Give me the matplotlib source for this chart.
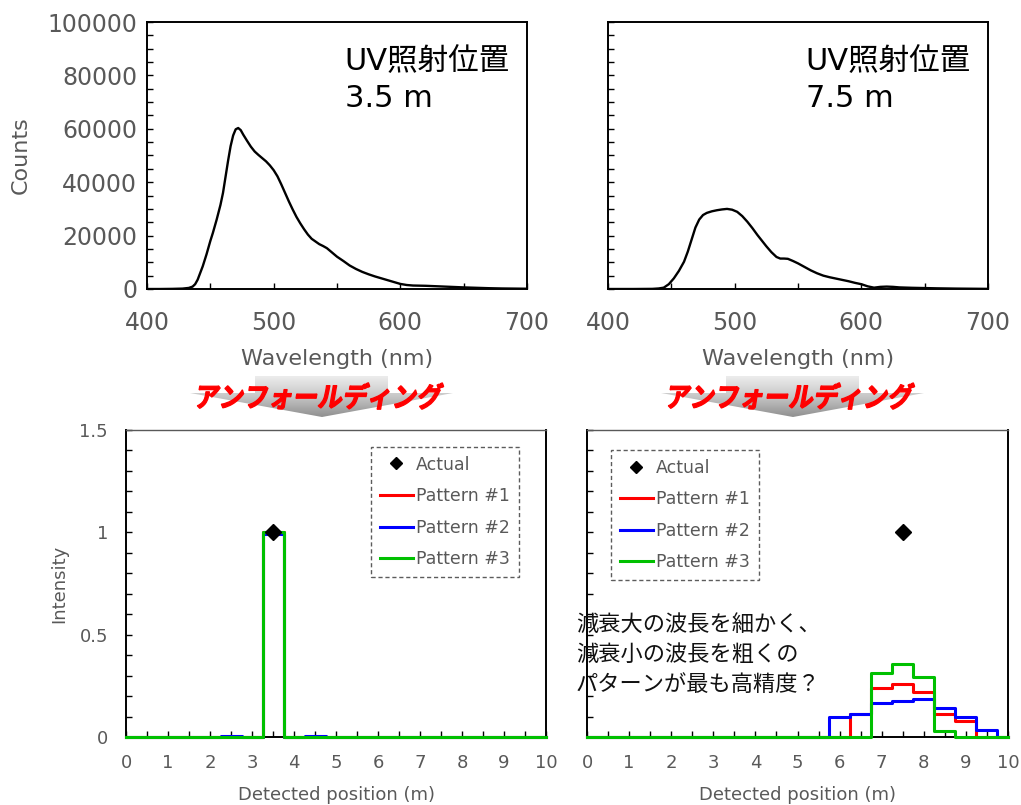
#!/usr/bin/env python3
# Spectra at two UV positions (top) and their unfolded position profiles (bottom).

import matplotlib
matplotlib.use("Agg")
import matplotlib.pyplot as plt
import numpy as np
from matplotlib.colors import LinearSegmentedColormap
from matplotlib.font_manager import FontProperties
from matplotlib.patches import PathPatch, Polygon
from matplotlib.textpath import TextPath
from matplotlib.transforms import Affine2D
from matplotlib.ticker import MultipleLocator

# --- spectra ---
WL_35 = [400, 410, 420, 428, 433, 436, 438, 440, 442, 444, 447, 450, 452, 455, 458,
         460, 462, 464, 466, 468, 470, 472, 474, 476, 479, 482, 485, 488, 491, 494,
         497, 500, 503, 506, 509, 512, 515, 518, 521, 524, 527, 530, 533, 536, 539,
         542, 546, 550, 555, 560, 565, 570, 575, 580, 585, 590, 595, 600, 605, 610,
         615, 620, 630, 640, 650, 660, 670, 680, 690, 700]
CNT_35 = [0, 0, 50, 150, 400, 900, 1800, 3500, 6000, 8500, 13000, 18000, 21000,
          26000, 31500, 36000, 42000, 48000, 53500, 57500, 59800, 60300, 59500,
          57800, 55500, 53300, 51500, 50200, 49000, 47800, 46300, 44500, 42200,
          39200, 36000, 32800, 29800, 27000, 24600, 22400, 20400, 18800, 17800,
          16800, 16100, 15300, 13700, 12100, 10500, 8800, 7500, 6400, 5500, 4700,
          4000, 3300, 2600, 1900, 1500, 1300, 1250, 1200, 1000, 800, 600, 450, 300,
          200, 150, 100]

WL_75 = [400, 420, 435, 440, 444, 448, 452, 456, 460, 463, 466, 469, 472, 475, 478,
         482, 486, 490, 494, 498, 502, 506, 510, 514, 518, 521, 525, 529, 533, 536,
         539, 542, 546, 550, 555, 560, 565, 570, 575, 580, 585, 590, 595, 600, 605,
         610, 615, 620, 625, 630, 640, 650, 660, 675, 700]
CNT_75 = [0, 0, 50, 200, 500, 1800, 4000, 6800, 10200, 14000, 18500, 23000, 26000,
          27700, 28500, 29100, 29500, 29800, 30000, 29700, 28900, 27300, 25200,
          22800, 20200, 18400, 16000, 13800, 12000, 11400, 11400, 11300, 10500,
          9600, 8300, 7000, 5900, 5000, 4400, 3900, 3400, 2900, 2300, 1800, 1000,
          500, 800, 900, 800, 600, 450, 350, 250, 150, 50]

# --- unfolded intensities, bins centred every 0.5 m ---
POS = [0.0, 0.5, 1.0, 1.5, 2.0, 2.5, 3.0, 3.5, 4.0, 4.5, 5.0, 5.5, 6.0, 6.5,
       7.0, 7.5, 8.0, 8.5, 9.0, 9.5, 10.0]
P1_35 = [0, 0, 0, 0, 0, 0, 0, 1.0, 0, 0, 0, 0, 0, 0, 0, 0, 0, 0, 0, 0, 0]
P2_35 = [0, 0, 0, 0, 0, 0.006, 0, 0.99, 0, 0.006, 0, 0, 0, 0, 0, 0, 0, 0, 0, 0, 0]
P3_35 = [0, 0, 0, 0, 0, 0, 0, 1.0, 0, 0, 0, 0, 0, 0, 0, 0, 0, 0, 0, 0, 0]

P1_75 = [0, 0, 0, 0, 0, 0, 0, 0, 0, 0, 0, 0, 0, 0.11, 0.24, 0.26, 0.22, 0.11,
         0.08, 0, 0]
P2_75 = [0, 0, 0, 0, 0, 0, 0, 0, 0, 0, 0, 0, 0.10, 0.11, 0.165, 0.175, 0.185,
         0.14, 0.10, 0.035, 0]
P3_75 = [0, 0, 0, 0, 0, 0, 0, 0, 0, 0, 0, 0, 0, 0, 0.315, 0.355, 0.295, 0.03,
         0, 0, 0]

ACTUAL = [3.5, 7.5]
ACTUAL_I = [1.0, 1.0]

POS_LABELS = ["3.5 m", "7.5 m"]
Y_TICKS = [0, 0.5, 1, 1.5]
Y_TICK_LABELS = ["0", "0.5", "1", "1.5"]
SERIES = ["Pattern #1", "Pattern #2", "Pattern #3"]
COLORS = ["#ff0000", "#0000ff", "#00c000"]

TXT_GRAY = "#595959"
JP = "Noto Sans CJK JP"
W, H = 1021, 805


def style_axes(ax, top_gray=False):
    for s in ax.spines.values():
        s.set_linewidth(1.4)
        s.set_color("black")
    if top_gray:
        ax.spines["top"].set_color(TXT_GRAY)
        ax.spines["top"].set_linewidth(1.0)
    ax.tick_params(which="both", direction="in", length=4, width=1.0,
                   colors="black", labelcolor=TXT_GRAY)


def spectrum_panel(ax, wl, cnt, label, show_y):
    ax.plot(wl, cnt, color="black", lw=1.7)
    ax.set_xlim(400, 700)
    ax.set_ylim(0, 100000)
    ax.xaxis.set_major_locator(MultipleLocator(100))
    ax.xaxis.set_minor_locator(MultipleLocator(50))
    ax.yaxis.set_major_locator(MultipleLocator(20000))
    ax.yaxis.set_minor_locator(MultipleLocator(5000))
    style_axes(ax)
    ax.tick_params(axis="both", labelsize=17)
    ax.tick_params(axis="x", pad=16)
    ax.tick_params(axis="y", pad=7)
    ax.set_xlabel("Wavelength (nm)", fontsize=16, color=TXT_GRAY, labelpad=10)
    if show_y:
        ax.set_ylabel("Counts", fontsize=16, color=TXT_GRAY, labelpad=12)
    else:
        ax.tick_params(axis="y", labelleft=False)
    fam = ["DejaVu Sans", JP]
    ax.text(0.52, 0.82, "UV照射位置", transform=ax.transAxes, fontsize=22,
            family=fam, va="baseline", ha="left")
    ax.text(0.52, 0.682, label, transform=ax.transAxes, fontsize=22,
            family=fam, va="baseline", ha="left")


def unfold_panel(ax, series, actual_x, show_y, leg_anchor):
    for vals, name, c in zip(series, SERIES, COLORS):
        ax.step(POS, vals, where="mid", color=c, lw=2.2, label=name,
                zorder=3, clip_on=False)
    ax.plot([actual_x], [1.0], ls="none", marker="D", ms=8, color="black",
            label="Actual", zorder=5)
    ax.set_xlim(0, 10)
    ax.set_ylim(0, 1.5)
    ax.xaxis.set_major_locator(MultipleLocator(1))
    ax.xaxis.set_minor_locator(MultipleLocator(0.5))
    ax.set_yticks(Y_TICKS)
    ax.set_yticklabels(Y_TICK_LABELS)
    ax.yaxis.set_minor_locator(MultipleLocator(0.1))
    style_axes(ax, top_gray=True)
    ax.tick_params(axis="both", labelsize=13)
    ax.tick_params(axis="x", pad=12)
    ax.tick_params(axis="y", pad=13)
    ax.set_xlabel("Detected position (m)", fontsize=13, color=TXT_GRAY,
                  labelpad=10)
    if show_y:
        ax.set_ylabel("Intensity", fontsize=13, color=TXT_GRAY, labelpad=8)
    else:
        ax.tick_params(axis="y", labelleft=False)

    h, l = ax.get_legend_handles_labels()
    order = [3, 0, 1, 2]
    leg = ax.legend([h[i] for i in order], [l[i] for i in order],
                    loc="upper left", bbox_to_anchor=leg_anchor,
                    fontsize=12.5, frameon=True, fancybox=False,
                    handlelength=1.9, handletextpad=0.2, labelspacing=0.78,
                    borderpad=0.5, borderaxespad=0, markerscale=0.8)
    fr = leg.get_frame()
    fr.set_linestyle((0, (3, 2)))
    fr.set_edgecolor("#333333")
    fr.set_linewidth(1.0)
    for t in leg.get_texts():
        t.set_color(TXT_GRAY)


def unfold_arrow(ov, cx):
    # grey block arrow with a vertical gradient
    pts = [(cx - 67, 376), (cx + 66, 376), (cx + 66, 393), (cx + 131, 393),
           (cx, 417), (cx - 132, 393), (cx - 67, 393)]
    poly = Polygon(pts, closed=True, fc="none", ec="none")
    ov.add_patch(poly)
    grad = np.linspace(0, 1, 64).reshape(-1, 1)
    cmap = LinearSegmentedColormap.from_list("g", ["#eeeeee", "#c8c8c8", "#909090"])
    img = ov.imshow(grad, cmap=cmap, extent=(cx - 135, cx + 135, 417, 376),
                    origin="upper", aspect="auto", interpolation="bilinear")
    img.set_clip_path(poly)

    # red bold slanted katakana
    fp = FontProperties(family=JP, weight="bold")
    tp = TextPath((0, 0), "アンフォールディング", size=24, prop=fp)
    bb = tp.get_extents()
    s = 244 / bb.width
    tr = (Affine2D().translate(-bb.x0 - bb.width / 2, -bb.y0 - bb.height / 2)
          .scale(s, s * 1.12).skew_deg(10, 0).scale(1, -1).translate(cx - 2, 396))
    ov.add_patch(PathPatch(tr.transform_path(tp), fc="#ff0000", ec="#ff0000",
                           lw=0.9))


def main():
    fig = plt.figure(figsize=(W / 100, H / 100), dpi=100)

    ax1 = fig.add_axes([147 / W, 1 - 289 / H, 380 / W, 267 / H])
    ax2 = fig.add_axes([608 / W, 1 - 289 / H, 380 / W, 267 / H])
    ax3 = fig.add_axes([126 / W, 1 - 737 / H, 420 / W, 307 / H])
    ax4 = fig.add_axes([587 / W, 1 - 737 / H, 421 / W, 307 / H])

    spectrum_panel(ax1, WL_35, CNT_35, POS_LABELS[0], True)
    spectrum_panel(ax2, WL_75, CNT_75, POS_LABELS[1], False)
    unfold_panel(ax3, [P1_35, P2_35, P3_35], ACTUAL[0], True, (0.583, 0.945))
    unfold_panel(ax4, [P1_75, P2_75, P3_75], ACTUAL[1], False, (0.057, 0.935))

    fig.text(576 / W, 1 - 613 / H,
             "減衰大の波長を細かく、\n減衰小の波長を粗くの\nパターンが最も高精度？",
             fontsize=16, family=[JP, "DejaVu Sans"], va="top", ha="left",
             linespacing=1.38, color="#111111")

    ov = fig.add_axes([0, 0, 1, 1], zorder=-1)
    ov.patch.set_visible(False)
    ov.axis("off")
    unfold_arrow(ov, 322)
    unfold_arrow(ov, 793)
    ov.set_xlim(0, W)
    ov.set_ylim(H, 0)

    fig.savefig("out.png", dpi=100)
    plt.close(fig)


if __name__ == "__main__":
    main()
